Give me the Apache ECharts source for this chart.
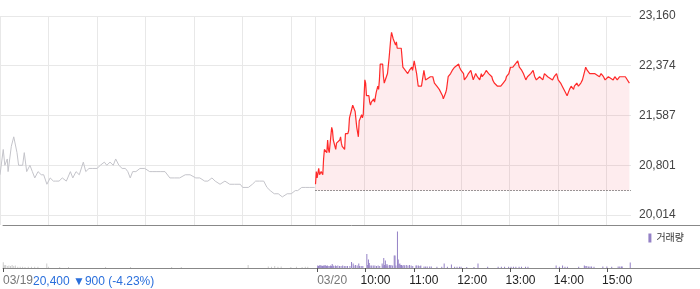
<!DOCTYPE html>
<html><head><meta charset="utf-8">
<script src="https://cdn.jsdelivr.net/npm/echarts@6/dist/echarts.min.js"></script>
<style>html,body{margin:0;padding:0;background:#fff}#c{width:700px;height:289px}</style>
</head><body><div id="c"></div>
<script>
// ---- data (minutes counted from 03/19 09:00; 03/20 09:00 = 390) ----
const day1Minutes = [0,4,6,9,10,14,17,21,23,28,30,33,37,40,43,47,51,54,58,62,66,69,73,77,82,87,90,94,98,103,106,110,114,120,124,129,132,136,140,143,147,151,155,158,161,164,168,173,179,185,189,194,198,204,210,216,222,229,235,242,247,253,257,262,266,272,278,284,290,297,300,307,312,316,321,326,330,334,339,344,349,355,360,365,368,373,378,383,389];
const day1Prices = [20650,21050,20800,20900,20700,21100,21250,21000,20800,20800,21000,20700,20800,20700,20600,20700,20650,20650,20500,20600,20550,20550,20550,20600,20550,20700,20600,20700,20650,20850,20700,20750,20750,20750,20800,20850,20800,20850,20800,20900,20800,20750,20750,20700,20600,20700,20700,20750,20750,20700,20700,20700,20700,20700,20600,20600,20600,20650,20650,20600,20600,20550,20550,20600,20550,20500,20550,20500,20500,20500,20450,20450,20500,20550,20550,20550,20450,20400,20350,20350,20300,20350,20350,20400,20400,20450,20450,20450,20450];

const day2Minutes = [390,391,392,394,395,397,399,400,401,404,405,406,407,410,411,412,413,415,416,418,420,421,422,423,426,427,430,431,432,434,436,437,438,439,441,442,443,444,446,447,448,449,451,452,453,456,457,458,459,462,463,465,467,468,469,470,472,473,474,475,477,479,480,481,483,484,485,486,488,489,490,491,493,496,498,501,504,506,509,510,512,515,517,521,524,526,528,532,535,537,540,543,547,548,551,552,554,557,559,562,564,567,568,570,573,574,577,579,582,584,585,588,590,593,595,596,599,601,604,608,609,611,615,619,622,625,626,629,631,634,636,640,642,645,647,650,652,656,659,661,663,667,671,673,677,679,683,685,688,690,693,695,699,701,704,706,709,710,713,715,718,720,723,724,726,729,732,735,737,741,743,746,748,752,754,758,760,763,766,769,773,775,778];
const day2Prices = [20500,20700,20600,20750,20650,20700,20650,20900,21050,21000,21200,21050,21000,21400,21350,21200,21200,21050,21150,21150,21200,21250,21150,21100,21050,21300,21300,21350,21550,21650,21750,21750,21750,21650,21400,21400,21250,21500,21500,21600,21550,21600,22150,22100,21900,21900,21800,21750,21800,21850,21800,21950,22050,22000,22150,22400,22400,22400,22200,22100,22100,22250,22250,22500,22800,22900,22900,22800,22800,22700,22750,22650,22650,22650,22350,22300,22250,22300,22350,22300,22450,22250,22050,22050,22300,22150,22150,22200,22200,22100,22050,22000,21900,21850,21950,22000,22200,22250,22300,22350,22350,22400,22350,22300,22250,22150,22200,22250,22300,22200,22150,22250,22200,22150,22250,22200,22250,22300,22250,22200,22150,22100,22050,22050,22100,22150,22200,22250,22350,22350,22350,22450,22350,22300,22250,22150,22200,22250,22300,22200,22150,22200,22150,22250,22200,22200,22150,22200,22250,22150,22100,22050,21950,21900,22000,22050,22000,22050,22100,22050,22100,22150,22300,22350,22300,22250,22250,22250,22250,22200,22250,22200,22150,22200,22200,22150,22200,22150,22200,22200,22200,22200,22100];

const vol1Minutes = [1,2,3,4,6,8,10,12,14,16,19,22,25,28,32,36,40,44,55,57,71,82,128,159,210,222,305,330,334,338,342,346,358,365,372,376,379];
const vol1Values  = [57,30,25,30,20,25,20,30,20,25,12,12,12,10,12,12,12,12,45,12,10,10,10,10,10,10,30,15,12,20,12,15,10,12,10,12,12];

const vol2Minutes = [390,391,392,393,394,395,396,397,398,399,400,401,402,403,405,406,407,408,409,410,412,413,415,417,419,421,423,425,427,430,432,434,435,437,439,441,442,444,446,451,452,453,454,455,457,459,461,463,465,467,470,471,472,473,474,475,476,477,479,480,481,483,485,486,487,489,490,491,492,493,494,495,497,498,500,502,504,506,508,512,513,515,517,518,522,524,526,529,531,538,544,547,551,556,560,563,566,568,575,584,589,601,614,618,622,627,630,633,636,640,643,648,651,686,690,694,697,700,714,721,722,724,726,728,730,733,744,749,755,763,765,767,768,778];
const vol2Values  = [25,20,25,30,20,25,20,25,20,30,25,20,25,20,20,25,20,40,25,20,25,20,25,20,20,25,20,20,20,20,60,45,25,30,25,45,20,20,20,140,30,85,50,25,25,25,25,20,25,20,45,25,100,30,75,25,40,25,30,25,30,25,125,125,25,365,85,40,45,30,30,25,30,25,30,25,30,25,20,25,25,25,20,25,15,15,15,15,15,12,12,45,12,35,12,12,12,12,10,10,45,12,12,12,12,12,12,12,12,12,12,12,12,25,12,25,12,12,12,25,20,20,15,15,15,12,15,15,12,15,15,15,15,55];

const prevClose = 20400;
const summaryText = '20,400 ▼900 (-4.23%)';
const yTicks = [20014, 20801, 21587, 22374, 23160];
const yMin = 19856, yMax = 23160;
const gridMinutes = [0,60,120,180,240,300,360,390,450,510,570,630,690,750];
const xTickMinutes = [0,390,450,510,570,630,690,750];
const xTickLabels = ['03/19','03/20','10:00','11:00','12:00','13:00','14:00','15:00'];
const dayEnd = 780;
const volMax = 430;

// ---- chart ----
const FONT = "'Liberation Sans', Arial, 'Noto Sans CJK KR', sans-serif";
const zip = (a, b) => a.map((v, i) => [v, b[i]]);
const chart = echarts.init(document.getElementById('c'), null, {renderer: 'canvas'});
const priceRight = 69;
const volXMax = dayEnd * 700 / (700 - priceRight);

chart.setOption({
  animation: false,
  textStyle: {fontFamily: FONT},
  title: {
    text: summaryText, left: 33, top: 276, padding: 0,
    textStyle: {color: '#2a6fdc', fontSize: 12, fontWeight: 'normal', fontFamily: FONT}
  },
  legend: {
    data: ['거래량'], right: 16, top: 233, padding: 0,
    icon: 'rect', itemWidth: 3, itemHeight: 9, itemGap: 0,
    textStyle: {fontSize: 10, color: '#333', fontFamily: FONT}
  },
  grid: [
    {left: 0, right: priceRight, top: 16, bottom: 64},
    {left: 0, right: 0, top: 225, bottom: 21}
  ],
  xAxis: [
    {
      type: 'value', gridIndex: 0, min: 0, max: dayEnd,
      axisLine: {show: false},
      axisTick: {show: false, customValues: gridMinutes},
      axisLabel: {show: false},
      splitLine: {show: true, lineStyle: {color: '#e8e8e8', width: 1}}
    },
    {
      type: 'value', gridIndex: 1, min: 0, max: volXMax, position: 'bottom',
      axisLine: {show: true, lineStyle: {color: '#888', width: 1}},
      axisTick: {show: true, length: 4, customValues: xTickMinutes, lineStyle: {color: '#555'}},
      axisLabel: {
        show: true, customValues: xTickMinutes, margin: 7, align: 'center',
        formatter: function (v) {
          const i = xTickMinutes.indexOf(v);
          const s = i >= 0 ? xTickLabels[i] : '';
          return s.indexOf('/') >= 0 ? '{d|' + s + '}' : '{t|' + s + '}';
        },
        rich: {
          d: {color: '#777', fontSize: 12, fontFamily: FONT, padding: [0, 0, 0, 30]},
          t: {color: '#222', fontSize: 12, fontFamily: FONT, padding: [0, 0, 0, 20]}
        }
      },
      splitLine: {show: false}
    },
    {
      type: 'value', gridIndex: 1, min: 0, max: volXMax, position: 'top',
      axisLine: {show: true, lineStyle: {color: '#888', width: 1}},
      axisTick: {show: false}, axisLabel: {show: false}, splitLine: {show: false}
    }
  ],
  yAxis: [
    {
      type: 'value', gridIndex: 0, position: 'right', min: yMin, max: yMax,
      axisLine: {show: false},
      axisTick: {show: false, customValues: yTicks},
      axisLabel: {
        customValues: yTicks, margin: 8, color: '#444', fontSize: 12, fontFamily: FONT,
        formatter: v => Math.round(v).toLocaleString('en-US')
      },
      splitLine: {show: true, lineStyle: {color: '#e8e8e8', width: 1}}
    },
    {type: 'value', gridIndex: 1, min: 0, max: volMax, show: false}
  ],
  series: [
    {
      name: '03/19', type: 'line', xAxisIndex: 0, yAxisIndex: 0,
      data: zip(day1Minutes, day1Prices), showSymbol: false, symbol: 'none',
      lineStyle: {color: '#c4c4ca', width: 1}, itemStyle: {color: '#c4c4ca'}
    },
    {
      name: '03/20', type: 'line', xAxisIndex: 0, yAxisIndex: 0,
      data: zip(day2Minutes, day2Prices), showSymbol: false, symbol: 'none',
      lineStyle: {color: '#ff2a2a', width: 1.2}, itemStyle: {color: '#ff2a2a'},
      areaStyle: {origin: prevClose, color: 'rgba(240,40,60,0.12)'},
      markLine: {
        silent: true, symbol: 'none', label: {show: false},
        lineStyle: {color: '#333', type: [1, 2], width: 1},
        data: [[{coord: [day2Minutes[0], prevClose]}, {coord: [dayEnd, prevClose]}]]
      }
    },
    {
      name: 'vol19', type: 'bar', xAxisIndex: 1, yAxisIndex: 1,
      data: zip(vol1Minutes, vol1Values), barWidth: 1,
      itemStyle: {color: '#cccccc'}
    },
    {
      name: '거래량', type: 'bar', xAxisIndex: 1, yAxisIndex: 1,
      data: zip(vol2Minutes, vol2Values), barWidth: 1,
      itemStyle: {color: '#9481c6'}
    }
  ]
});
</script>
</body></html>
